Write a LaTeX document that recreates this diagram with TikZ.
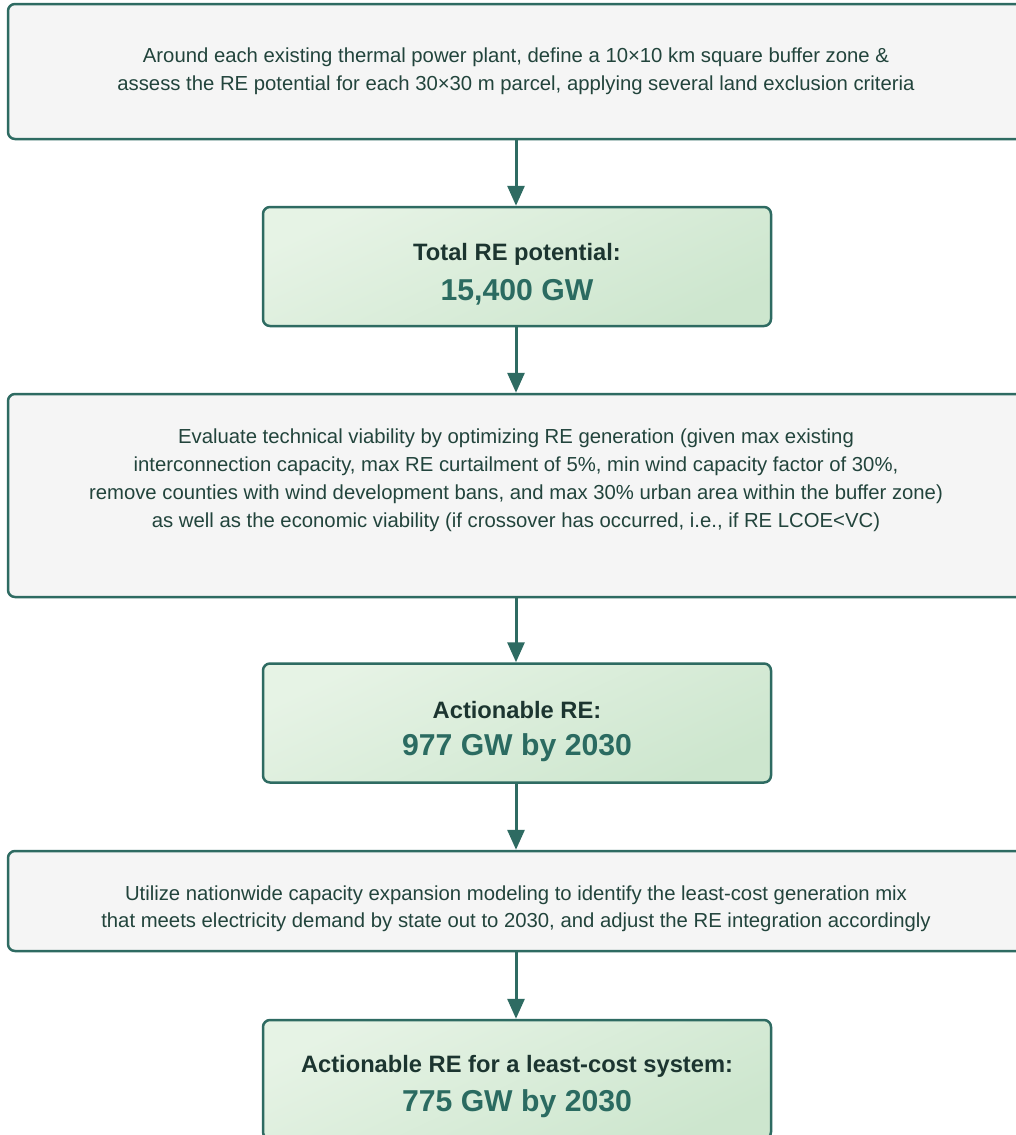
\documentclass[tikz,border=0pt]{standalone}
\usepackage{fontspec}
\setmainfont{Liberation Sans}
\usetikzlibrary{arrows.meta}
\definecolor{edge}{HTML}{2E6B62}
\definecolor{bodytxt}{HTML}{22443C}
\definecolor{titletxt}{HTML}{1C3530}
\definecolor{numtxt}{HTML}{2B6B61}
\definecolor{grayfill}{HTML}{F5F5F5}
\definecolor{greenA}{HTML}{E6F3E5}
\definecolor{greenB}{HTML}{CDE6CE}
\begin{document}
\begin{tikzpicture}[x=1pt,y=-1pt,
  procbox/.style={draw=edge, line width=2.5pt, rounded corners=7pt, fill=grayfill,
    minimum width=1016pt, inner sep=0pt},
  proctext/.style={align=center, inner sep=0pt,
    font=\fontsize{20.3}{28}\selectfont, text=bodytxt},
  resbox/.style={draw=edge, line width=2.5pt, rounded corners=7pt,
    minimum width=508pt, minimum height=119pt, inner sep=0pt,
    top color=greenA, bottom color=greenB, shading angle=25},
  restitle/.style={font=\fontsize{23.7}{28}\selectfont\bfseries, text=titletxt, inner sep=0pt},
  resnum/.style={font=\fontsize{30.2}{36}\selectfont\bfseries, text=numtxt, inner sep=0pt},
  flow/.style={draw=edge, line width=3pt, -{Triangle[width=17pt,length=20pt]}}]
\useasboundingbox (0,0) rectangle (1016,1135);
\clip (0,0) rectangle (1016,1135);
\fill[white] (0,0) rectangle (1016,1135);

\node[procbox, minimum height=135pt] (b1) at (516,71.5) {};
\node[proctext] (t1) at (516,71.5)
  {Around each existing thermal power plant, define a 10×10 km square buffer zone \&\\
   assess the RE potential for each 30×30 m parcel, applying several land exclusion criteria};

\node[resbox] (b2) at (517,266.5) {};
\node[restitle] (t2) at (517,254) {Total RE potential:};
\node[resnum] (n2) at (517,292) {15,400 GW};

\node[procbox, minimum height=203pt] (b3) at (516,495.5) {};
\node[proctext] (t3) at (516,480.5)
  {Evaluate technical viability by optimizing RE generation (given max existing\\
   interconnection capacity, max RE curtailment of 5\%, min wind capacity factor of 30\%,\\
   remove counties with wind development bans, and max 30\% urban area within the buffer zone)\\
   as well as the economic viability (if crossover has occurred, i.e., if RE LCOE<VC)};

\node[resbox] (b4) at (517,723) {};
\node[restitle] (t4) at (517,710) {Actionable RE:};
\node[resnum] (n4) at (517,748) {977 GW by 2030};

\node[procbox, minimum height=100pt] (b5) at (516,901) {};
\node[proctext, font=\fontsize{20.3}{26.5}\selectfont] (t5) at (516,908.5)
  {Utilize nationwide capacity expansion modeling to identify the least-cost generation mix\\
   that meets electricity demand by state out to 2030, and adjust the RE integration accordingly};

\node[resbox] (b6) at (517,1079.5) {};
\node[restitle] (t6) at (517,1066) {Actionable RE for a least-cost system:};
\node[resnum] (n6) at (517,1104) {775 GW by 2030};

\draw[flow] (b1.south) -- (b1.south |- b2.north);
\draw[flow] (b2.south -| b1.south) -- (b1.south |- b3.north);
\draw[flow] (b3.south) -- (b3.south |- b4.north);
\draw[flow] (b4.south -| b3.south) -- (b3.south |- b5.north);
\draw[flow] (b5.south) -- (b5.south |- b6.north);
\end{tikzpicture}
\end{document}
